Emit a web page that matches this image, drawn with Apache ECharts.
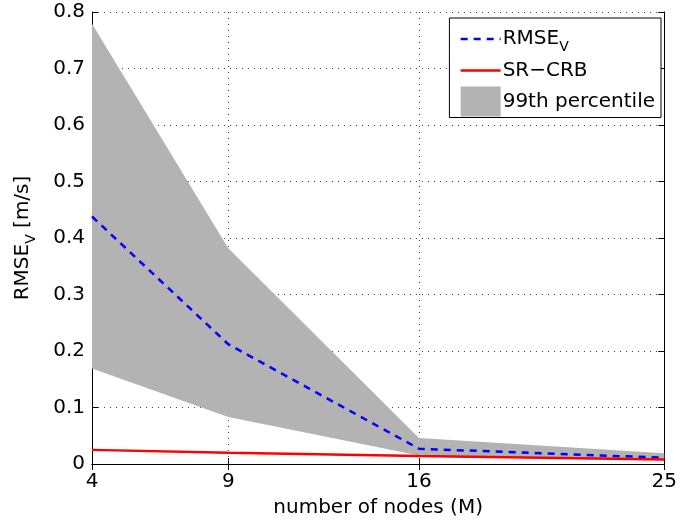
<!DOCTYPE html>
<html><head><meta charset="utf-8">
<script src="https://cdn.jsdelivr.net/npm/echarts@6/dist/echarts.min.js"></script>
<style>html,body{margin:0;padding:0;background:#fff}#c{width:680px;height:525px}</style>
</head><body><div id="c"></div>
<script>
const nodes = [4, 9, 16, 25];
const rmseV = [0.438, 0.212, 0.027, 0.011];
const srCrb = [0.025, 0.020, 0.014, 0.008];
const p99Upper = [0.779, 0.382, 0.046, 0.019];
const p99Lower = [0.169, 0.083, 0.015, 0.008];

const FONT = 'DejaVu Sans';
const FS = 20;
const pair = (ys) => nodes.map((x, i) => [x, ys[i]]);
const bandData = nodes.map((x, i) => [x, p99Upper[i], p99Lower[i]]);

const tickBase = {show: true, inside: true, length: 6, lineStyle: {color: '#000', width: 1}};
const richSub = {
  a: {fontFamily: FONT, fontSize: FS, color: '#000'},
  s: {fontFamily: FONT, fontSize: 14, color: '#000', padding: [17, 0, 0, 0]}
};
const chart = echarts.init(document.getElementById('c'), null, {renderer: 'canvas'});
chart.setOption({
  animation: false,
  backgroundColor: '#fff',
  textStyle: {fontFamily: FONT},
  grid: {left: 92, right: 13, top: 12, bottom: 61, containLabel: false},
  legend: {
    orient: 'vertical', right: 19, top: 18,
    backgroundColor: '#fff', borderColor: '#000', borderWidth: 1,
    padding: [9, 6, 1, 10], itemGap: 4, itemWidth: 40, itemHeight: 30,
    itemStyle: {opacity: 0},
    data: [
      {name: 'RMSEV', lineStyle: {width: 2.5, color: '#0000ff', type: [7, 6]}},
      {name: 'SR-CRB', lineStyle: {width: 2.5, color: '#ff0000'}},
      {name: '99th percentile', icon: 'rect', itemStyle: {opacity: 1, color: '#b3b3b3'}}
    ],
    formatter: function (n) {
      if (n === 'RMSEV') return '{a|RMSE}{s|V}';
      if (n === 'SR-CRB') return '{a|SR\u2212CRB}';
      return '{a|' + n + '}';
    },
    textStyle: {fontFamily: FONT, fontSize: FS, color: '#000', padding: [0, 0, 0, -3], rich: richSub}
  },
  xAxis: [{
    type: 'value', min: 4, max: 25, position: 'bottom',
    name: 'number of nodes (M)', nameLocation: 'middle', nameGap: 34,
    nameTextStyle: {fontFamily: FONT, fontSize: FS, color: '#000'},
    axisLine: {show: true, lineStyle: {color: '#000', width: 1}},
    axisTick: Object.assign({customValues: nodes}, tickBase),
    axisLabel: {customValues: nodes, fontFamily: FONT, fontSize: FS, color: '#000', margin: 8},
    splitLine: {show: true, lineStyle: {color: '#444', type: [1, 5], width: 1}}
  }, {
    type: 'value', min: 4, max: 25, position: 'top',
    axisLine: {show: true, lineStyle: {color: '#000', width: 1}},
    axisTick: Object.assign({customValues: nodes}, tickBase),
    axisLabel: {show: false, customValues: nodes},
    splitLine: {show: false}
  }],
  yAxis: [{
    type: 'value', min: 0, max: 0.8, interval: 0.1, position: 'left',
    name: '{a|RMSE}{s|V}{a| [m/s]}', nameLocation: 'middle', nameGap: 54,
    nameTextStyle: {fontFamily: FONT, fontSize: FS, color: '#000', rich: richSub},
    axisLine: {show: true, lineStyle: {color: '#000', width: 1}},
    axisTick: tickBase,
    axisLabel: {fontFamily: FONT, fontSize: FS, color: '#000', margin: 7,
      formatter: v => (Math.round(v * 10) / 10).toString()},
    splitLine: {show: true, lineStyle: {color: '#444', type: [1, 5], width: 1}}
  }, {
    type: 'value', min: 0, max: 0.8, interval: 0.1, position: 'right',
    axisLine: {show: true, lineStyle: {color: '#000', width: 1}},
    axisTick: tickBase,
    axisLabel: {show: false},
    splitLine: {show: false}
  }],
  series: [
    {name: '99th percentile', type: 'custom', data: bandData,
     encode: {x: 0, y: [1, 2]},
     itemStyle: {color: '#b3b3b3'}, z: 1, silent: true,
     renderItem: function (params, api) {
       if (params.dataIndex !== 0) return null;
       const pts = [];
       for (let i = 0; i < nodes.length; i++) pts.push(api.coord([nodes[i], p99Upper[i]]));
       for (let i = nodes.length - 1; i >= 0; i--) pts.push(api.coord([nodes[i], p99Lower[i]]));
       return {type: 'polygon', shape: {points: pts}, style: {fill: '#b3b3b3', stroke: null}};
     }},
    {name: 'RMSEV', type: 'line', data: pair(rmseV), symbol: 'none',
     itemStyle: {color: '#0000ff'},
     lineStyle: {color: '#0000ff', width: 2.5, type: [7, 6]}, z: 3},
    {name: 'SR-CRB', type: 'line', data: pair(srCrb), symbol: 'none',
     itemStyle: {color: '#ff0000'},
     lineStyle: {color: '#ff0000', width: 2.5}, z: 4}
  ]
});
</script></body></html>
